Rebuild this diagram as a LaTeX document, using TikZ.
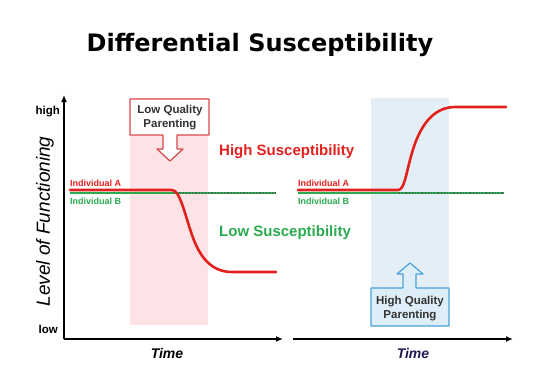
\documentclass[tikz,border=0pt]{standalone}
\usepackage{fontspec}
\usepackage{xcolor}
\usepackage{tikz}
\usetikzlibrary{arrows.meta}
\setmainfont{Liberation Sans}
\newfontfamily\titlefont{DejaVu Sans}
\definecolor{lineA}{HTML}{E3211C}
\definecolor{lineB}{HTML}{2BAA4F}
\definecolor{dotB}{HTML}{4A6655}
\definecolor{pinkband}{HTML}{FDE3E5}
\definecolor{blueband}{HTML}{E3EEF7}
\definecolor{lowedge}{HTML}{D8474B}
\definecolor{highedge}{HTML}{4BA2D6}
\definecolor{highfill}{HTML}{DDEEF9}
\definecolor{boxtext}{HTML}{333333}
\definecolor{navy}{HTML}{1F1C52}
\tikzset{
  Axis/.style={line width=1.6pt, -{Latex[length=7pt,width=6pt]}},
  IndA/.style={lineA, line width=2.6pt, line cap=round},
  IndB/.style={lineB, line width=2.8pt},
  IndBdot/.style={dotB, line width=2.2pt, dash pattern=on 1.2pt off 2pt},
  SmallLbl/.style={font=\bfseries\fontsize{9}{10}\selectfont, anchor=base west, inner sep=0pt},
  BigLbl/.style={font=\bfseries\fontsize{15}{17}\selectfont, anchor=base west, inner sep=0pt},
  BoxText/.style={font=\bfseries\fontsize{11.5}{14}\selectfont, text=boxtext, align=center, inner sep=0pt, anchor=base}
}

\begin{document}
\begin{tikzpicture}[x=1pt, y=-1pt, line join=round]
  \useasboundingbox (0,0) rectangle (549,389);

  % title
  \node[font=\titlefont\bfseries\fontsize{24}{28}\selectfont, anchor=base, inner sep=0pt] (title) at (260,51) {Differential Susceptibility};

  % shaded intervals
  \fill[pinkband] (130,98) rectangle (208,325);
  \fill[blueband] (371,98) rectangle (449,325);

  % axes
  \coordinate (O) at (64,339);
  \coordinate (Ytop) at (64,95);
  \coordinate (Xend) at (283,339);
  \coordinate (R0) at (293,339);
  \coordinate (Rend) at (513,339);
  \draw[Axis] (O) -- (Ytop);
  \draw[Axis] (O) -- (Xend);
  \draw[Axis] (R0) -- (Rend);

  \node[font=\bfseries\fontsize{11.5}{13}\selectfont, anchor=base east, inner sep=0pt] (high) at (60,114) {high};
  \node[font=\bfseries\fontsize{11.5}{13}\selectfont, anchor=base east, inner sep=0pt] (low) at (58,333) {low};
  \node[font=\itshape\fontsize{19}{22}\selectfont, rotate=90, inner sep=0pt] (ylabel) at (45,221.5) {Level of Functioning};
  \node[font=\bfseries\itshape\fontsize{14}{16}\selectfont, anchor=base, inner sep=0pt] (timeL) at (167,358) {Time};
  \node[font=\bfseries\itshape\fontsize{14}{16}\selectfont, anchor=base, inner sep=0pt, text=navy] (timeR) at (413,358) {Time};

  % left panel: low quality parenting
  \draw[IndB] (70,193) -- (173,193);
  \draw[IndB] (173,193) -- (276,193);
  \draw[IndBdot] (173,193) -- (276,193);
  \draw[IndA] (70,190) -- (172,190)
    .. controls (180,190) and (185,215) .. (192,235)
    .. controls (199,255) and (210,272) .. (232,272) -- (276,272);

  \draw[lowedge, fill=white, line width=1.2pt]
    (130,99) -- (209,99) -- (209,135) -- (177,135) -- (177,149) -- (183,149)
    -- (170,161) -- (157,149) -- (163,149) -- (163,135) -- (130,135) -- cycle;
  \node[BoxText] (lowqp) at (170,127.5) {Low Quality\\Parenting};

  \node[SmallLbl, text=lineA] (aL) at (70,186) {Individual A};
  \node[SmallLbl, text=lineB] (bL) at (70,204) {Individual B};
  \node[BigLbl, text=lineA] (hiS) at (219,155) {High Susceptibility};
  \node[BigLbl, text=lineB] (loS) at (219,236) {Low Susceptibility};

  % right panel: high quality parenting
  \draw[IndB] (298,193) -- (399,193);
  \draw[IndB] (399,193) -- (504,193);
  \draw[IndBdot] (399,193) -- (504,193);
  \draw[IndA] (298,190) -- (398,190)
    .. controls (404,190) and (406,175) .. (410,160)
    .. controls (414,145) and (424,107) .. (455,107) -- (506,107);

  \draw[highedge, fill=highfill, line width=1.2pt]
    (371,288) -- (403,288) -- (403,274) -- (397,274) -- (410,263) -- (423,274)
    -- (416,274) -- (416,288) -- (449,288) -- (449,326) -- (371,326) -- cycle;
  \node[BoxText] (highqp) at (410,318) {High Quality\\Parenting};

  \node[SmallLbl, text=lineA] (aR) at (298,186) {Individual A};
  \node[SmallLbl, text=lineB] (bR) at (298,204) {Individual B};
\end{tikzpicture}
\end{document}
